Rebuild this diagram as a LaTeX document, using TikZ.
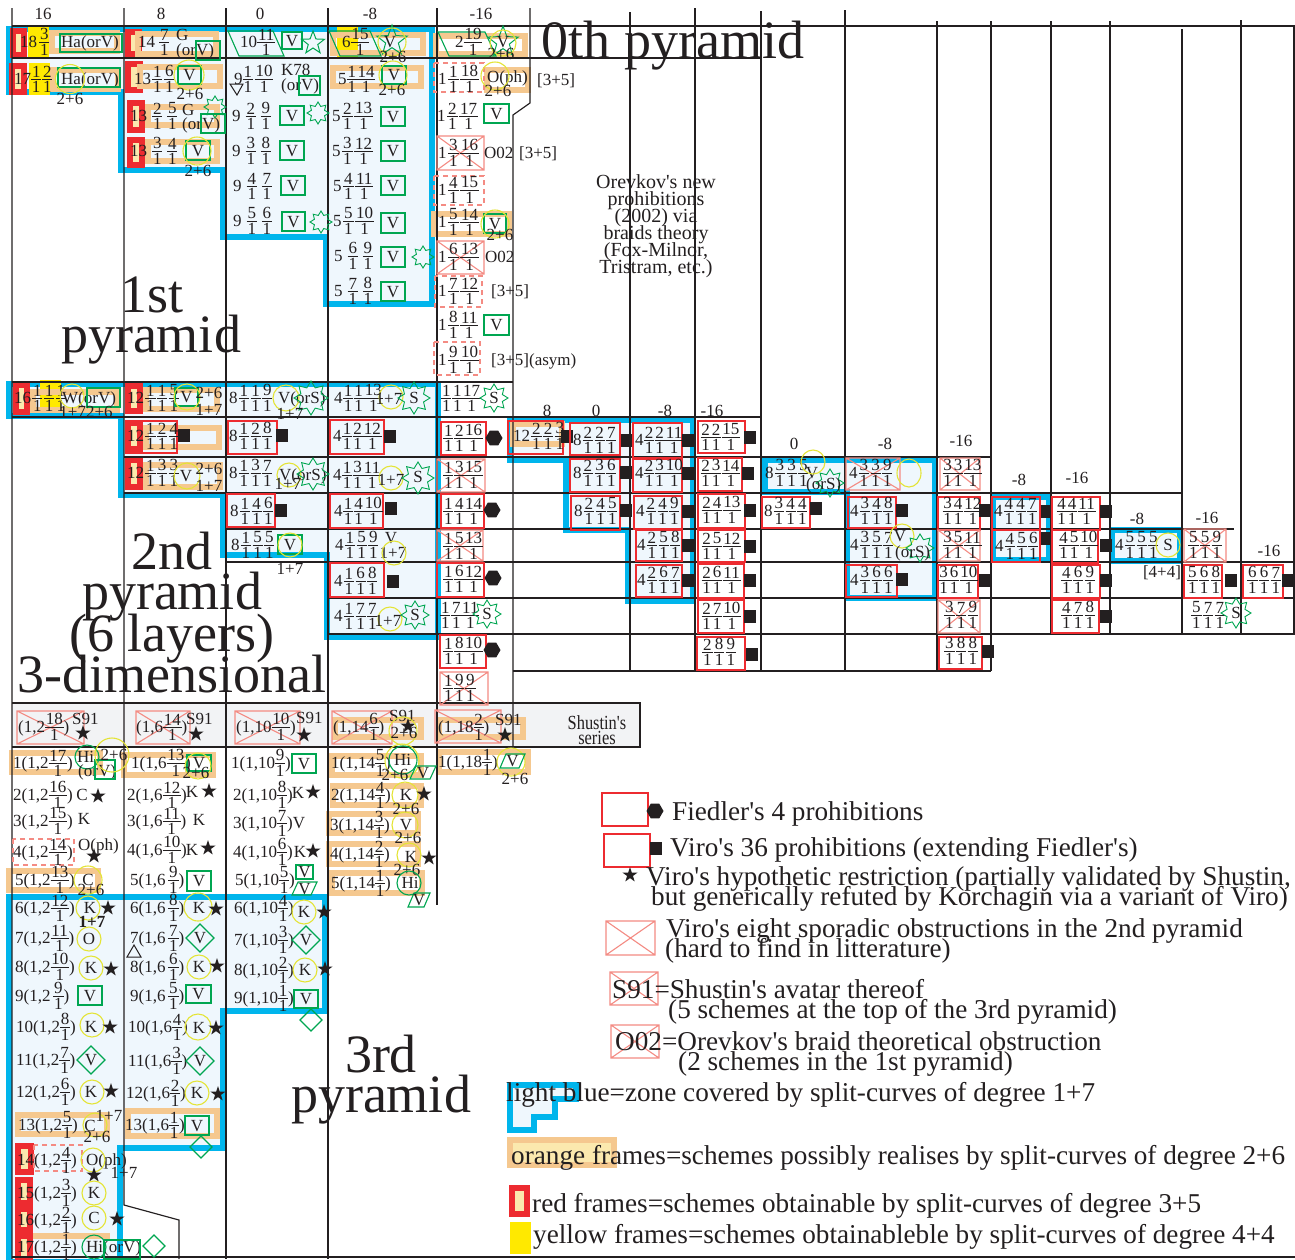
\documentclass[tikz,border=0pt]{standalone}
\usepackage{fontspec}
\setmainfont{Liberation Serif}[Ligatures=TeXOff]
\usetikzlibrary{shapes.geometric}
\definecolor{ink}{HTML}{231F20}
\definecolor{blu}{HTML}{00B5EC}
\definecolor{lite}{HTML}{EFF7FD}
\definecolor{ora}{HTML}{F5C88F}
\definecolor{pale}{HTML}{FBE9AE}
\definecolor{rdd}{HTML}{ED2B30}
\definecolor{pnk}{HTML}{F48B83}
\definecolor{yel}{HTML}{FFE900}
\definecolor{yci}{HTML}{E4E436}
\definecolor{grn}{HTML}{00A651}
\definecolor{ser}{HTML}{F2F3F5}
\newcommand\fsz{\fontsize{17}{17}\selectfont}
\newcommand\ff[2]{\setbox0\hbox{#1}\setbox2\hbox{#2}\dimen0=\wd0 \ifdim\wd2>\dimen0 \dimen0=\wd2\fi \advance\dimen0 by 1.6pt
 \raisebox{-8.3pt}{\vbox{\offinterlineskip\hbox to\dimen0{\hss\box0\hss}\kern1.7pt\hrule height .7pt\kern2.1pt\hbox to\dimen0{\hss\box2\hss}}}}
\newcommand\tw[2]{\ifnum#2>9 \kern1.7pt\else\kern5pt\fi\ff{#1}{1}\ifnum#2>9 \kern1.7pt\else\kern5pt\fi\ff{#2}{1}}
\newcommand\tr[3]{\ifnum#3>9 \kern.4pt\else\kern1.2pt\fi\ff{#1}{1}\ifnum#3>9 \kern.4pt\else\kern1.6pt\fi\ff{#2}{1}\ifnum#3>9 \kern.4pt\else\kern1.6pt\fi\ff{#3}{1}}
\tikzset{
 txt/.style={anchor=base west,inner sep=0pt,font=\fsz,text=ink},
 lab/.style={anchor=base,inner sep=0pt,font=\fsz,text=ink},
 grid/.style={draw=ink,line width=1.15pt},
 bluf/.style={draw=blu,line width=6pt,fill=lite,miter limit=10},
 redbox/.style={draw=rdd,line width=1.2pt},
 crossbox/.style={draw=pnk,line width=1.1pt},
 dashbox/.style={draw=pnk,line width=1.1pt,dash pattern=on 5pt off 4pt},
 gbox/.style={draw=grn,line width=1.1pt},
 ycirc/.style={draw=yci,line width=1.1pt},
 gstar/.style={shape=star,star points=8,star point ratio=1.55,draw=grn,line width=.9pt,inner sep=0pt},
 gfive/.style={shape=star,star points=5,star point ratio=2.4,draw=grn,line width=1pt,inner sep=0pt},
 bstar/.style={shape=star,star points=5,star point ratio=2.6,fill=ink,inner sep=0pt,minimum size=16pt},
 bhex/.style={regular polygon,regular polygon sides=6,fill=ink,inner sep=0pt,minimum size=17pt},
 big/.style={anchor=base,inner sep=0pt,font=\fontsize{54}{54}\selectfont,text=ink},
 leg/.style={anchor=base west,inner sep=0pt,font=\fontsize{27.2}{27.2}\selectfont,text=ink},
 shu/.style={anchor=base,inner sep=0pt,font=\fontsize{20}{20}\selectfont,text=ink,xscale=.82,transform shape},
}
\newcommand\Sc[3]{\node[txt] at (#1,#2+5.5) {#3};}
\newcommand\Lb[3]{\node[lab] at (#1,#2+5.5) {#3};}
\newcommand\Of[4]{\draw[ora,line width=6pt] (#1+3,#2+3) rectangle (#3-3,#4-3);}
\newcommand\Rb[4]{\fill[rdd] (#1,#2) rectangle (#3,#4);\fill[pale] (#1+6,#2+6) rectangle (#3-6,#4-6);}
\newcommand\Yb[4]{\fill[yel] (#1,#2) rectangle (#3,#4);}
\newcommand\Rd[4]{\draw[redbox] (#1,#2) rectangle (#3,#4);}
\newcommand\Xb[4]{\draw[crossbox] (#1,#2) rectangle (#3,#4) (#1,#2) -- (#3,#4) (#1,#4) -- (#3,#2);}
\newcommand\Db[4]{\draw[dashbox] (#1,#2) rectangle (#3,#4);}
\newcommand\Gb[4]{\draw[gbox] (#1,#2) rectangle (#3,#4);}
\newcommand\Gv[4]{\draw[gbox] (#1,#2) rectangle (#3,#4);\node[lab] at ({(#1+#3)/2},{(#2+#4)/2+5.5}) {V};}
\newcommand\PgB[4]{\draw[gbox] (#1,#2) -- (#3,#2) -- (#3+11,#4) -- (#1+11,#4) -- cycle;}
\newcommand\PgF[4]{\draw[gbox] (#1+6,#2) -- (#3,#2) -- (#3-6,#4) -- (#1,#4) -- cycle;\node[lab] at ({(#1+#3)/2},{(#2+#4)/2+5.5}) {V};}
\newcommand\Dm[3]{\draw[gbox] (#1-#3,#2) -- (#1,#2-#3) -- (#1+#3,#2) -- (#1,#2+#3) -- cycle;}
\newcommand\Yc[3]{\draw[ycirc] (#1,#2) circle (#3);}
\newcommand\Gc[3]{\draw[gbox] (#1,#2) circle (#3);}
\newcommand\Sq[2]{\fill[ink] (#1-6,#2-6.5) rectangle (#1+6,#2+6.5);}
\newcommand\Hx[2]{\node[bhex] at (#1,#2) {};}
\newcommand\Bs[2]{\node[bstar] at (#1,#2) {};}
\newcommand\Ge[3]{\node[gstar,minimum size={2*#3}] at (#1,#2) {};}
\newcommand\Gf[3]{\node[gfive,minimum size={2*#3}] at (#1,#2) {};}
\begin{document}
\begin{tikzpicture}[x=1pt,y=-1pt]
\useasboundingbox (0,0) rectangle (1295,1259);
\fill[white] (0,0) rectangle (1295,1259);
% blue zones
\draw[bluf] (9,29) -- (432,29) -- (432,304) -- (326,304) -- (326,237) -- (223,237) -- (223,170) -- (121,170) -- (121,92) -- (9,92) -- cycle;
\draw[bluf] (9,384) -- (438,384) -- (438,637) -- (327,637) -- (327,555) -- (223,555) -- (223,495) -- (121,495) -- (121,416) -- (9,416) -- cycle;
\draw[bluf] (510,420) -- (693,420) -- (693,601) -- (628,601) -- (628,530) -- (566,530) -- (566,460) -- (510,460) -- cycle;
\draw[bluf] (765,460) -- (935,460) -- (935,598) -- (847,598) -- (847,492) -- (765,492) -- cycle;
\draw[bluf] (993,497) rectangle (1049,560);
\draw[bluf] (1112,530) rectangle (1180,561);
\fill[ser] (12,703) rectangle (640,747);
\draw[bluf] (9,897) -- (325,897) -- (325,1011) -- (223,1011) -- (223,1148) -- (120,1148) -- (120,1262) -- (9,1262) -- cycle;
% coloured frames, upper blocks
\Rb{10}{28}{27}{58}\Yb{28}{27}{49}{58}\Of{49}{30}{120}{54}
\Rb{9}{63}{27}{95}\Yb{29}{63}{50}{95}\Of{50}{67}{121}{92}
\Rb{125}{29}{142}{57}\Of{135}{31}{219}{57}
\Rb{125}{61}{143}{93}\Of{137}{64}{223}{89}
\Rb{127}{100}{145}{133}\Of{145}{104}{220}{128}
\Rb{127}{137}{145}{168}\Of{145}{139}{220}{164}
\Yb{337}{26}{358}{58}\Of{330}{32}{426}{56}
\Of{433}{33}{528}{57}
\Of{330}{65}{424}{89}
\Of{484}{67}{531}{93}
\Of{431}{211}{512}{237}
% lower-left frames
\Rb{13}{382}{30}{415}\Yb{40}{380}{61}{412}\Of{30}{389}{120}{413}
\Rb{125}{383}{143}{414}\Of{143}{387}{220}{412}
\Rb{125}{420}{143}{452}\Of{143}{425}{222}{450}
\Rb{125}{457}{143}{490}\Of{143}{462}{223}{490}
\Of{510}{421}{565}{447}
% third pyramid frames
\Of{332}{717}{424}{740}\Of{436}{717}{526}{740}
\Of{9}{750}{103}{775}\Of{121}{752}{216}{778}\Of{329}{753}{424}{778}\Of{436}{749}{531}{775}
\Of{330}{783}{424}{808}\Of{326}{811}{421}{836}\Of{326}{841}{421}{867}\Of{329}{870}{425}{896}
\Of{6}{868}{101}{893}\Of{15}{1112}{110}{1137}\Of{125}{1108}{220}{1139}
\Rb{15}{1143}{34}{1175}\Rb{15}{1177}{33}{1206}\Rb{15}{1206}{33}{1233}\Rb{15}{1233}{33}{1262}
\draw[ora,line width=6pt] (33,1236) -- (110,1236);
% grid
\draw[grid] (12,8) -- (12,1259) (124,8) -- (124,1205) -- (179,1220) -- (179,1259);
\draw[grid] (226,8) -- (226,1259) (328,8) -- (328,1259) (437,8) -- (437,905);
\draw[grid] (530,8) -- (530,103) -- (513,115) -- (513,747);
\draw[grid] (630,12) -- (630,671) (695,8) -- (695,671) (761,11) -- (761,671) (845,10) -- (845,671);
\draw[grid] (937,21) -- (937,671) (991,21) -- (991,671) (1051,21) -- (1051,634) (1110,21) -- (1110,634);
\draw[grid] (1182,29) -- (1182,634) (1241,20) -- (1241,634) (1294,26) -- (1294,634);
\draw[grid] (12,26) -- (1295,26) (12,58) -- (761,58);
\draw[grid] (12,382) -- (513,382);
\draw[grid] (12,417) -- (761,417) (124,457) -- (991,457) (124,493) -- (1182,493);
\draw[grid] (226,529) -- (1234,529) (226,562) -- (1295,562) (328,598) -- (1295,598);
\draw[grid] (328,634) -- (1295,634) (513,671) -- (991,671);
\draw[grid] (12,703) -- (640,703) -- (640,747) -- (12,747);
\draw[grid] (12,1257) -- (1295,1257);
% headers
\Lb{43}{14}{16}\Lb{161}{14}{8}\Lb{260}{14}{0}\Lb{370}{14}{-8}\Lb{481}{14}{-16}
\Lb{547}{411}{8}\Lb{596}{411}{0}\Lb{665}{411}{-8}\Lb{712}{411}{-16}
\Lb{794}{444}{0}\Lb{885}{444}{-8}\Lb{961}{441}{-16}\Lb{1019}{480}{-8}\Lb{1077}{478}{-16}
\Lb{1137}{519}{-8}\Lb{1207}{518}{-16}\Lb{1269}{551}{-16}
% titles
\node[big] at (673,58) {0th pyramid};
\node[big] at (152,312) {1st};\node[big] at (151,352) {pyramid};
\node[big] at (172,569) {2nd};\node[big] at (172,609) {pyramid};\node[big] at (172,651) {(6 layers)};\node[big] at (172,692) {3-dimensional};
\node[big] at (381,1072) {3rd};\node[big] at (381,1112) {pyramid};
% first pyramid, column 1
\Sc{20}{42}{18\kern2pt\ff{3}{1}}\Sc{61}{42}{Ha(orV)}\Gb{60}{34}{122}{52}
\Sc{14}{79}{17\ff{1}{1}\kern1pt\ff{2}{1}}\Sc{61}{79}{Ha(orV)}\Gb{58}{68}{120}{87}\Yc{70}{79}{14.5}\Lb{70}{99}{2+6}
% column 2
\Sc{138}{42}{14\kern4pt\ff{7}{1}}\Sc{176}{35}{G}\Sc{176}{50}{(orV)}\Gb{196}{41}{220}{60}
\Sc{134}{79}{13\kern1pt\ff{1}{1}\kern2pt\ff{6}{1}}\Gv{178}{66}{201}{84}\Yc{189}{75}{15}\Lb{190}{94}{2+6}
\Sc{130}{116}{13\tw{2}{5}}\Sc{182}{110}{G}\Sc{182}{124}{(orV)}\Gb{201}{114}{225}{133}\Ge{215}{107}{11}
\Sc{130}{151}{13\tw{3}{4}}\Gv{186}{141}{210}{160}\Yc{197}{151}{14}\Lb{198}{171}{2+6}
% column 3
\PgB{228}{31}{273}{56}\Sc{240}{42}{10\ff{11}{1}}\Gv{282}{32}{302}{49}\Gf{313}{43}{12}
\Sc{234}{79}{9\ff{1}{1}\kern2pt\ff{10}{1}}\draw[ink,line width=1pt] (230,84) -- (243,84) -- (237,95) -- cycle;\Sc{281}{70}{K78}\Sc{281}{85}{(orV)}\Gb{299}{76}{320}{95}
\Sc{232}{116}{9\tw{2}{9}}\Gv{280}{106}{304}{125}\Ge{318}{113}{11}
\Sc{232}{151}{9\tw{3}{8}}\Gv{280}{141}{304}{160}
\Sc{233}{186}{9\tw{4}{7}}\Gv{281}{176}{305}{195}
\Sc{233}{221}{9\tw{5}{6}}\Gv{282}{212}{305}{231}\Ge{321}{222}{11}
% column 4
\PgB{329}{31}{370}{56}\Sc{342}{42}{6\ff{15}{1}}\Gf{392}{41}{16}\Yc{392}{42}{14}\Lb{390}{42}{V}\Lb{393}{57}{2+6}
\Sc{338}{79}{5\ff{1}{1}\ff{14}{1}}\Gv{382}{66}{406}{84}\Yc{393}{75}{14}\Lb{392}{90}{2+6}
\Sc{332}{116}{5\tw{2}{13}}\Gv{381}{107}{405}{126}
\Sc{332}{151}{5\tw{3}{12}}\Gv{381}{141}{405}{161}
\Sc{333}{186}{5\tw{4}{11}}\Gv{381}{176}{405}{195}
\Sc{333}{221}{5\tw{5}{10}}\Gv{381}{213}{405}{233}
\Sc{334}{256}{5\tw{6}{9}}\Gv{381}{247}{405}{267}\Ge{423}{257}{11}
\Sc{334}{291}{5\tw{7}{8}}\Gv{381}{282}{405}{301}
% column 5
\PgB{438}{32}{485}{56}\Sc{455}{42}{2\ff{19}{1}}\Gf{503}{42}{16}\Yc{503}{43}{13}\Lb{503}{42}{V}\Lb{501}{54}{2+6}
\Db{434}{63}{484}{92}\Sc{438}{79}{1\tw{1}{18}}\Sc{487}{77}{O(ph)}\Yc{495}{76}{14}\Lb{498}{91}{2+6}\Sc{537}{80}{[3+5]}
\Sc{437}{116}{1\tw{2}{17}}\Gv{484}{104}{509}{123}
\Xb{437}{136}{484}{170}\Sc{438}{153}{1\tw{3}{16}}\Sc{484}{153}{O02}\Sc{519}{153}{[3+5]}
\Db{434}{176}{484}{205}\Sc{438}{190}{1\tw{4}{15}}
\Sc{438}{222}{1\tw{5}{14}}\Gv{484}{214}{506}{233}\Yc{495}{224}{14}\Lb{500}{235}{2+6}
\Xb{437}{241}{484}{274}\Sc{438}{257}{1\tw{6}{13}}\Sc{485}{257}{O02}
\Db{435}{276}{482}{307}\Sc{438}{291}{1\tw{7}{12}}\Sc{491}{291}{[3+5]}
\Sc{438}{325}{1\tw{8}{11}}\Gv{484}{315}{509}{335}
\Db{434}{342}{480}{375}\Sc{438}{360}{1\tw{9}{10}}\Sc{491}{360}{[3+5](asym)}
% Orevkov note
\foreach \yy/\tt in {182/Orevkov's new,199/prohibitions,216/(2002) via,233/braids theory,250/{(Fox-Milnor,},267/{Tristram, etc.)}}{\node[anchor=base,inner sep=0pt,font=\fontsize{20}{20}\selectfont,text=ink] at (656,\yy+6) {\tt};}
% second pyramid
\Sc{14}{398}{16\tr{1}{1}{1}}\Sc{62}{398}{W(orV)}\Yc{72}{396}{12}\Gb{87}{388}{120}{407}\Lb{86}{412}{1+72+6}
\Sc{127}{398}{12\tr{1}{1}{5}}\Gv{175}{388}{198}{406}\Yc{187}{397}{13}\Lb{209}{393}{2+6}\Lb{209}{410}{1+7}
\Rd{126}{421}{177}{453}\Sc{127}{436}{12\tr{1}{2}{4}}\Sq{184}{435}
\Sc{127}{473}{12\tr{1}{3}{3}}\Lb{186}{476}{V}\Yc{187}{476}{13}\Lb{209}{469}{2+6}\Lb{209}{486}{1+7}
\Sc{229}{398}{8\tr{1}{1}{9}}\Sc{278}{398}{V(orS)}\Yc{286}{398}{13}\Ge{311}{398}{17}\Lb{290}{414}{1+7}
\Rd{228}{421}{277}{454}\Sc{229}{436}{8\tr{1}{2}{8}}\Sq{282}{435}
\Sc{229}{473}{8\tr{1}{3}{7}}\Sc{279}{475}{V(orS)}\Yc{289}{475}{12}\Ge{313}{474}{16}\Lb{288}{484}{1+7}
\Rd{227}{494}{275}{527}\Sc{230}{511}{8\tr{1}{4}{6}}\Sq{281}{510}
\Sc{231}{545}{8\tr{1}{5}{5}}\Gv{278}{535}{302}{554}\Yc{290}{545}{12}\Lb{290}{569}{1+7}
\Sc{334}{398}{4\tr{1}{1}{13}}\Yc{391}{397}{12}\Lb{389}{399}{1+7}\Ge{414}{398}{16}\Lb{414}{398}{S}
\Rd{330}{420}{384}{454}\Sc{333}{436}{4\tr{1}{2}{12}}\Sq{390}{436}
\Sc{333}{475}{4\tr{1}{3}{11}}\Yc{391}{478}{12}\Lb{391}{480}{1+7}\Ge{418}{478}{16}\Lb{418}{477}{S}
\Rd{330}{494}{383}{528}\Sc{334}{511}{4\tr{1}{4}{10}}\Sq{391}{508}
\Sc{335}{545}{4\tr{1}{5}{9}}\Lb{391}{538}{V}\Lb{393}{553}{1+7}\Yc{394}{553}{12}
\Rd{330}{563}{384}{597}\Sc{334}{581}{4\tr{1}{6}{8}}\Sq{393}{581}
\Sc{334}{616}{4\tr{1}{7}{7}}\Yc{390}{619}{12}\Lb{388}{621}{1+7}\Ge{415}{615}{14}\Lb{415}{615}{S}
\Sc{441}{398}{\ff{1}{1}\kern1pt\ff{1}{1}\ff{17}{1}}\Ge{494}{398}{14}\Lb{494}{398}{S}
\Rd{441}{422}{486}{455}\Sc{443}{438}{\ff{1}{1}\kern1pt\ff{2}{1}\ff{16}{1}}\Hx{494}{438}
\Xb{437}{459}{485}{492}\Sc{443}{475}{\ff{1}{1}\kern1pt\ff{3}{1}\ff{15}{1}}
\Rd{441}{494}{484}{528}\Sc{443}{511}{\ff{1}{1}\kern1pt\ff{4}{1}\ff{14}{1}}\Hx{492}{510}
\Xb{437}{530}{483}{561}\Sc{443}{546}{\ff{1}{1}\kern1pt\ff{5}{1}\ff{13}{1}}
\Rd{437}{563}{484}{597}\Sc{443}{579}{\ff{1}{1}\kern1pt\ff{6}{1}\ff{12}{1}}\Hx{493}{578}
\Sc{440}{615}{\ff{1}{1}\kern1pt\ff{7}{1}\ff{11}{1}}\Ge{487}{614}{14}\Lb{487}{614}{S}
\Rd{440}{635}{486}{668}\Sc{443}{651}{\ff{1}{1}\kern1pt\ff{8}{1}\ff{10}{1}}\Hx{492}{650}
\Xb{440}{672}{488}{705}\Sc{443}{688}{\ff{1}{1}\kern1pt\ff{9}{1}\kern1pt\ff{9}{1}}
% second pyramid, right part
\Rd{508}{421}{563}{454}\Sc{513}{436}{12\tr{2}{2}{3}}\Sq{567}{436}
\Rd{570}{423}{620}{455}\Sc{573}{440}{8\tr{2}{2}{7}}\Sq{627}{440}
\Rd{570}{459}{620}{492}\Sc{573}{473}{8\tr{2}{3}{6}}\Sq{626}{472}
\Rd{571}{496}{620}{530}\Sc{574}{511}{8\tr{2}{4}{5}}\Sq{626}{510}
\Rd{633}{423}{682}{458}\Sc{635}{440}{4\tr{2}{2}{11}}\Sq{688}{440}
\Rd{633}{459}{682}{492}\Sc{635}{473}{4\tr{2}{3}{10}}\Sq{688}{473}
\Rd{634}{496}{682}{529}\Sc{636}{511}{4\tr{2}{4}{9}}\Sq{688}{511}
\Rd{636}{530}{682}{561}\Sc{637}{545}{4\tr{2}{5}{8}}\Sq{688}{545}
\Rd{636}{565}{682}{597}\Sc{637}{580}{4\tr{2}{6}{7}}\Sq{688}{580}
\Rd{698}{421}{745}{453}\Sc{700}{437}{\tr{2}{2}{15}}\Sq{750}{437}
\Rd{698}{458}{742}{491}\Sc{700}{473}{\tr{2}{3}{14}}\Sq{748}{473}
\Rd{698}{494}{745}{528}\Sc{701}{510}{\tr{2}{4}{13}}\Sq{750}{510}
\Rd{698}{530}{745}{562}\Sc{701}{546}{\tr{2}{5}{12}}\Sq{750}{546}
\Rd{698}{564}{744}{598}\Sc{701}{580}{\tr{2}{6}{11}}\Sq{750}{580}
\Rd{698}{600}{744}{633}\Sc{701}{616}{\tr{2}{7}{10}}\Sq{750}{616}
\Rd{697}{637}{745}{670}\Sc{701}{652}{\tr{2}{8}{9}}\Sq{752}{654}
\Sc{765}{473}{8\tr{3}{3}{5}}\Lb{812}{473}{V}\Yc{813}{462}{12}\Ge{830}{483}{14}\Sc{806}{484}{(orS)}
\Rd{762}{497}{810}{528}\Sc{764}{511}{8\tr{3}{4}{4}}\Sq{816}{508}
\Xb{846}{458}{900}{490}\Sc{849}{473}{4\tr{3}{3}{9}}\draw[ycirc] (909,473) ellipse (12 and 14);
\Rd{848}{497}{896}{528}\Sc{850}{511}{4\tr{3}{4}{8}}\Sq{902}{510}
\Sc{850}{545}{4\tr{3}{5}{7}}\Lb{900}{536}{V}\Yc{902}{536}{12}\Ge{920}{548}{14}\Sc{895}{552}{(orS)}
\Rd{846}{565}{897}{597}\Sc{850}{580}{4\tr{3}{6}{6}}\Sq{902}{579}
\Xb{940}{458}{980}{490}\Sc{942}{473}{\tr{3}{3}{13}}
\Rd{938}{497}{980}{530}\Sc{942}{511}{\tr{3}{4}{12}}\Sq{985}{510}
\Xb{938}{530}{980}{561}\Sc{942}{545}{\tr{3}{5}{11}}
\Rd{938}{565}{978}{598}\Sc{938}{580}{\tr{3}{6}{10}}\Sq{985}{580}
\Xb{938}{600}{980}{633}\Sc{943}{615}{\tr{3}{7}{9}}
\Rd{939}{637}{982}{669}\Sc{943}{651}{\tr{3}{8}{8}}\Sq{988}{651}
\Rd{992}{497}{1040}{530}\Sc{994}{511}{4\tr{4}{4}{7}}\Sq{1047}{511}
\Rd{992}{530}{1040}{562}\Sc{995}{546}{4\tr{4}{5}{6}}\Sq{1047}{538}
\Rd{1052}{497}{1100}{530}\Sc{1056}{511}{\tr{4}{4}{11}}\Sq{1106}{511}
\Rd{1052}{530}{1098}{563}\Sc{1058}{545}{\tr{4}{5}{10}}\Sq{1106}{545}
\Rd{1052}{565}{1100}{598}\Sc{1060}{580}{\tr{4}{6}{9}}\Sq{1106}{580}
\Rd{1052}{600}{1099}{633}\Sc{1060}{615}{\tr{4}{7}{8}}\Sq{1106}{616}
\Sc{1115}{545}{4\tr{5}{5}{5}}\Yc{1168}{545}{12}\Lb{1168}{545}{S}\Lb{1162}{572}{[4+4]}
\Xb{1184}{529}{1226}{562}\Sc{1187}{545}{\tr{5}{5}{9}}
\Rd{1184}{565}{1222}{598}\Sc{1186}{580}{\tr{5}{6}{8}}\Sq{1231}{580}
\Sc{1190}{615}{\tr{5}{7}{7}}\Ge{1236}{613}{15}\Lb{1236}{613}{S}
\Rd{1243}{565}{1283}{598}\Sc{1246}{580}{\tr{6}{6}{7}}\Sq{1288}{580}
% Shustin series
\Xb{17}{711}{84}{744}\Sc{18}{727}{(1,2\ff{18}{1})}\Sc{72}{719}{S91}\Bs{83}{733}
\Xb{136}{711}{190}{744}\Sc{136}{727}{(1,6\ff{14}{1})}\Sc{186}{719}{S91}\Bs{196}{734}
\Xb{235}{711}{300}{744}\Sc{236}{727}{(1,10\ff{10}{1})}\Sc{296}{718}{S91}\Bs{304}{735}
\Xb{332}{711}{392}{744}\Sc{333}{727}{(1,14\ff{6}{1})}\Sc{389}{716}{S91}\Bs{408}{726}\Yc{403}{731}{14}\Lb{404}{733}{2+6}
\Xb{435}{710}{501}{743}\Sc{438}{727}{(1,18\ff{2}{1})}\Sc{495}{720}{S91}\Bs{505}{735}
\node[shu] at (597,729) {Shustin's};
\node[shu] at (597,744) {series};
% third pyramid
\Sc{13}{763}{1(1,2\ff{17}{1})}\Sc{77}{757}{Hi}\Gc{87}{757}{12}\Sc{78}{771}{(orV)}\Gb{95}{760}{115}{779}\Yc{112}{755}{17}\Lb{114}{755}{2+6}
\Sc{131}{763}{1(1,6\ff{13}{1})}\Gv{187}{755}{211}{771}\Yc{198}{766}{13}\Lb{196}{773}{2+6}
\Sc{231}{763}{1(1,10\ff{9}{1})}\Gv{292}{754}{316}{773}
\Sc{331}{763}{1(1,14\ff{5}{1})}\Sc{394}{760}{Hi}\Yc{402}{761}{17}\Gc{403}{760}{14}\Lb{395}{775}{2+6}\PgF{410}{766}{436}{779}
\Sc{438}{762}{1(1,18\ff{1}{1})}\Yc{511}{762}{14}\PgF{500}{754}{525}{768}\Lb{515}{779}{2+6}
\Sc{13}{795}{2(1,2\ff{16}{1})}\Lb{82}{795}{C}\Bs{98}{796}
\Sc{127}{795}{2(1,6\ff{12}{1})}\Lb{192}{792}{K}\Bs{209}{791}
\Sc{233}{795}{2(1,10\ff{8}{1})}\Lb{298}{793}{K}\Bs{313}{792}
\Sc{331}{795}{2(1,14\ff{4}{1})}\Lb{406}{795}{K}\Yc{405}{795}{13}\Lb{406}{809}{2+6}\Bs{424}{794}
\Sc{13}{821}{3(1,2\ff{15}{1})}\Lb{84}{819}{K}
\Sc{127}{821}{3(1,6\ff{11}{1})}\Lb{199}{820}{K}
\Sc{233}{823}{3(1,10\ff{7}{1})}\Lb{299}{823}{V}
\Sc{330}{825}{3(1,14\ff{3}{1})}\Lb{406}{825}{V}\Yc{405}{825}{13}\Lb{408}{838}{2+6}
\Db{13}{839}{74}{865}\Sc{13}{852}{4(1,2\ff{14}{1})}\Sc{78}{845}{O(ph)}\Bs{94}{856}
\Sc{127}{850}{4(1,6\ff{10}{1})}\Lb{192}{850}{K}\Bs{208}{848}
\Sc{233}{852}{4(1,10\ff{6}{1})}\Lb{300}{852}{K}\Bs{313}{851}
\Sc{330}{854}{4(1,14\ff{2}{1})}\Lb{411}{857}{K}\Yc{409}{855}{12}\Bs{429}{858}\Lb{407}{870}{2+6}
\Sc{15}{880}{5(1,2\ff{13}{1})}\Lb{88}{880}{C}\Yc{88}{880}{14}\Lb{91}{890}{2+6}
\Sc{130}{880}{5(1,6\,\ff{9}{1})}\Gv{187}{871}{211}{891}
\Sc{235}{880}{5(1,10\ff{5}{1})}\Gv{296}{865}{313}{879}\PgF{292}{882}{317}{895}
\Sc{331}{883}{5(1,14\ff{1}{1})}\Lb{410}{883}{Hi}\Gc{409}{883}{12}\PgF{408}{893}{430}{907}
\Sc{15}{908}{6(1,2\ff{12}{1})}\Lb{90}{908}{K}\Yc{88}{908}{12}\Bs{108}{908}\Lb{92}{922}{\bfseries 1+7}
\Sc{130}{908}{6(1,6\,\ff{8}{1})}\Lb{199}{908}{K}\Yc{198}{907}{14}\Bs{216}{909}
\Sc{234}{908}{6(1,10\ff{4}{1})}\Lb{304}{912}{K}\Yc{304}{912}{12}\Bs{324}{912}
\Sc{15}{938}{7(1,2\ff{11}{1})}\Lb{89}{939}{O}\Yc{89}{939}{12}
\Sc{130}{938}{7(1,6\,\ff{7}{1})}\Dm{200}{938}{14}\Lb{200}{938}{V}\draw[ink,line width=1pt] (134,945) -- (141,957) -- (127,957) -- cycle;
\Sc{234}{940}{7(1,10\ff{3}{1})}\Dm{306}{940}{14}\Lb{306}{940}{V}
\Sc{15}{967}{8(1,2\ff{10}{1})}\Lb{91}{968}{K}\Yc{91}{968}{12}\Bs{111}{969}
\Sc{130}{967}{8(1,6\,\ff{6}{1})}\Lb{199}{967}{K}\Yc{199}{967}{12}\Bs{217}{966}
\Sc{234}{970}{8(1,10\ff{2}{1})}\Lb{305}{970}{K}\Yc{305}{970}{12}\Bs{325}{969}
\Sc{15}{996}{9(1,2\,\ff{9}{1})}\Gv{78}{986}{102}{1005}
\Sc{130}{996}{9(1,6\,\ff{5}{1})}\Gv{186}{985}{211}{1003}
\Sc{234}{998}{9(1,10\ff{1}{1})}\Gv{294}{990}{318}{1008}\Dm{311}{1020}{11}
\Sc{16}{1027}{10(1,2\ff{8}{1})}\Lb{91}{1027}{K}\Yc{92}{1025}{12}\Bs{110}{1027}
\Sc{128}{1027}{10(1,6\ff{4}{1})}\Lb{199}{1028}{K}\Yc{198}{1027}{13}\Bs{216}{1028}
\Sc{16}{1060}{11(1,2\ff{7}{1})}\Dm{91}{1060}{14}\Lb{91}{1060}{V}
\Sc{128}{1061}{11(1,6\ff{3}{1})}\Dm{200}{1061}{14}\Lb{200}{1061}{V}
\Sc{16}{1092}{12(1,2\ff{6}{1})}\Lb{91}{1092}{K}\Yc{92}{1092}{12}\Bs{111}{1091}
\Sc{126}{1093}{12(1,6\ff{2}{1})}\Lb{197}{1093}{K}\Yc{197}{1093}{12}\Bs{218}{1094}
\Sc{18}{1125}{13(1,2\ff{5}{1})}\Lb{90}{1126}{C}\Yc{95}{1125}{12}\Lb{109}{1116}{1+7}\Lb{97}{1137}{2+6}
\Sc{125}{1125}{13(1,6\ff{1}{1})}\Gv{185}{1116}{209}{1135}\Dm{201}{1147}{11}
\Db{34}{1145}{82}{1171}\Sc{17}{1160}{14(1,2\ff{4}{1})}\Sc{86}{1160}{O(ph)}\Yc{93}{1160}{12}\Bs{94}{1175}\Lb{124}{1173}{1+7}
\Sc{17}{1193}{15(1,2\ff{3}{1})}\Lb{94}{1193}{K}\Yc{94}{1193}{12}
\Sc{17}{1220}{16(1,2\ff{2}{1})}\Lb{94}{1218}{C}\Yc{94}{1218}{12}\Bs{117}{1219}
\Sc{17}{1247}{17(1,2\ff{1}{1})}\Sc{86}{1247}{Hi(orV)}\Gc{94}{1247}{12}\Gb{104}{1240}{140}{1259}\Dm{154}{1246}{11}
% legend
\Rd{602}{793}{648}{826}\Hx{655}{811}\node[leg] at (672,820) {Fiedler's 4 prohibitions};
\Rd{604}{834}{650}{867}\Sq{656}{848}\node[leg] at (670,856) {Viro's 36 prohibitions (extending Fiedler's)};
\Bs{630}{875}\node[leg] at (646,885) {Viro's hypothetic restriction (partially validated by Shustin,};
\node[leg] at (651,905) {but generically refuted by Korchagin via a variant of Viro)};
\Xb{606}{921}{655}{955}\node[leg] at (666,937) {Viro's eight sporadic obstructions in the 2nd pyramid};
\node[leg] at (665,957) {(hard to find in litterature)};
\Xb{610}{972}{658}{1005}\node[leg] at (612,998) {S91=Shustin's avatar thereof};
\node[leg] at (668,1018) {(5 schemes at the top of the 3rd pyramid)};
\Xb{611}{1025}{659}{1058}\node[leg] at (615,1050) {O02=Orevkov's braid theoretical obstruction};
\node[leg] at (678,1070) {(2 schemes in the 1st pyramid)};
\draw[bluf] (510,1085) -- (576,1085) -- (576,1099) -- (555,1099) -- (555,1117) -- (534,1117) -- (534,1130) -- (510,1130) -- cycle;
\node[leg] at (506,1101) {light blue=zone covered by split-curves of degree 1+7};
\fill[pale] (507,1137) rectangle (617,1168);\Of{507}{1137}{617}{1168}
\node[leg] at (511,1164) {orange frames=schemes possibly realises by split-curves of degree 2+6};
\Rb{509}{1185}{530}{1217}\node[leg] at (532,1212) {red frames=schemes obtainable by split-curves of degree 3+5};
\Yb{510}{1222}{531}{1254}\node[leg] at (533,1243) {yellow frames=schemes obtainableble by split-curves of degree 4+4};
\end{tikzpicture}
\end{document}
